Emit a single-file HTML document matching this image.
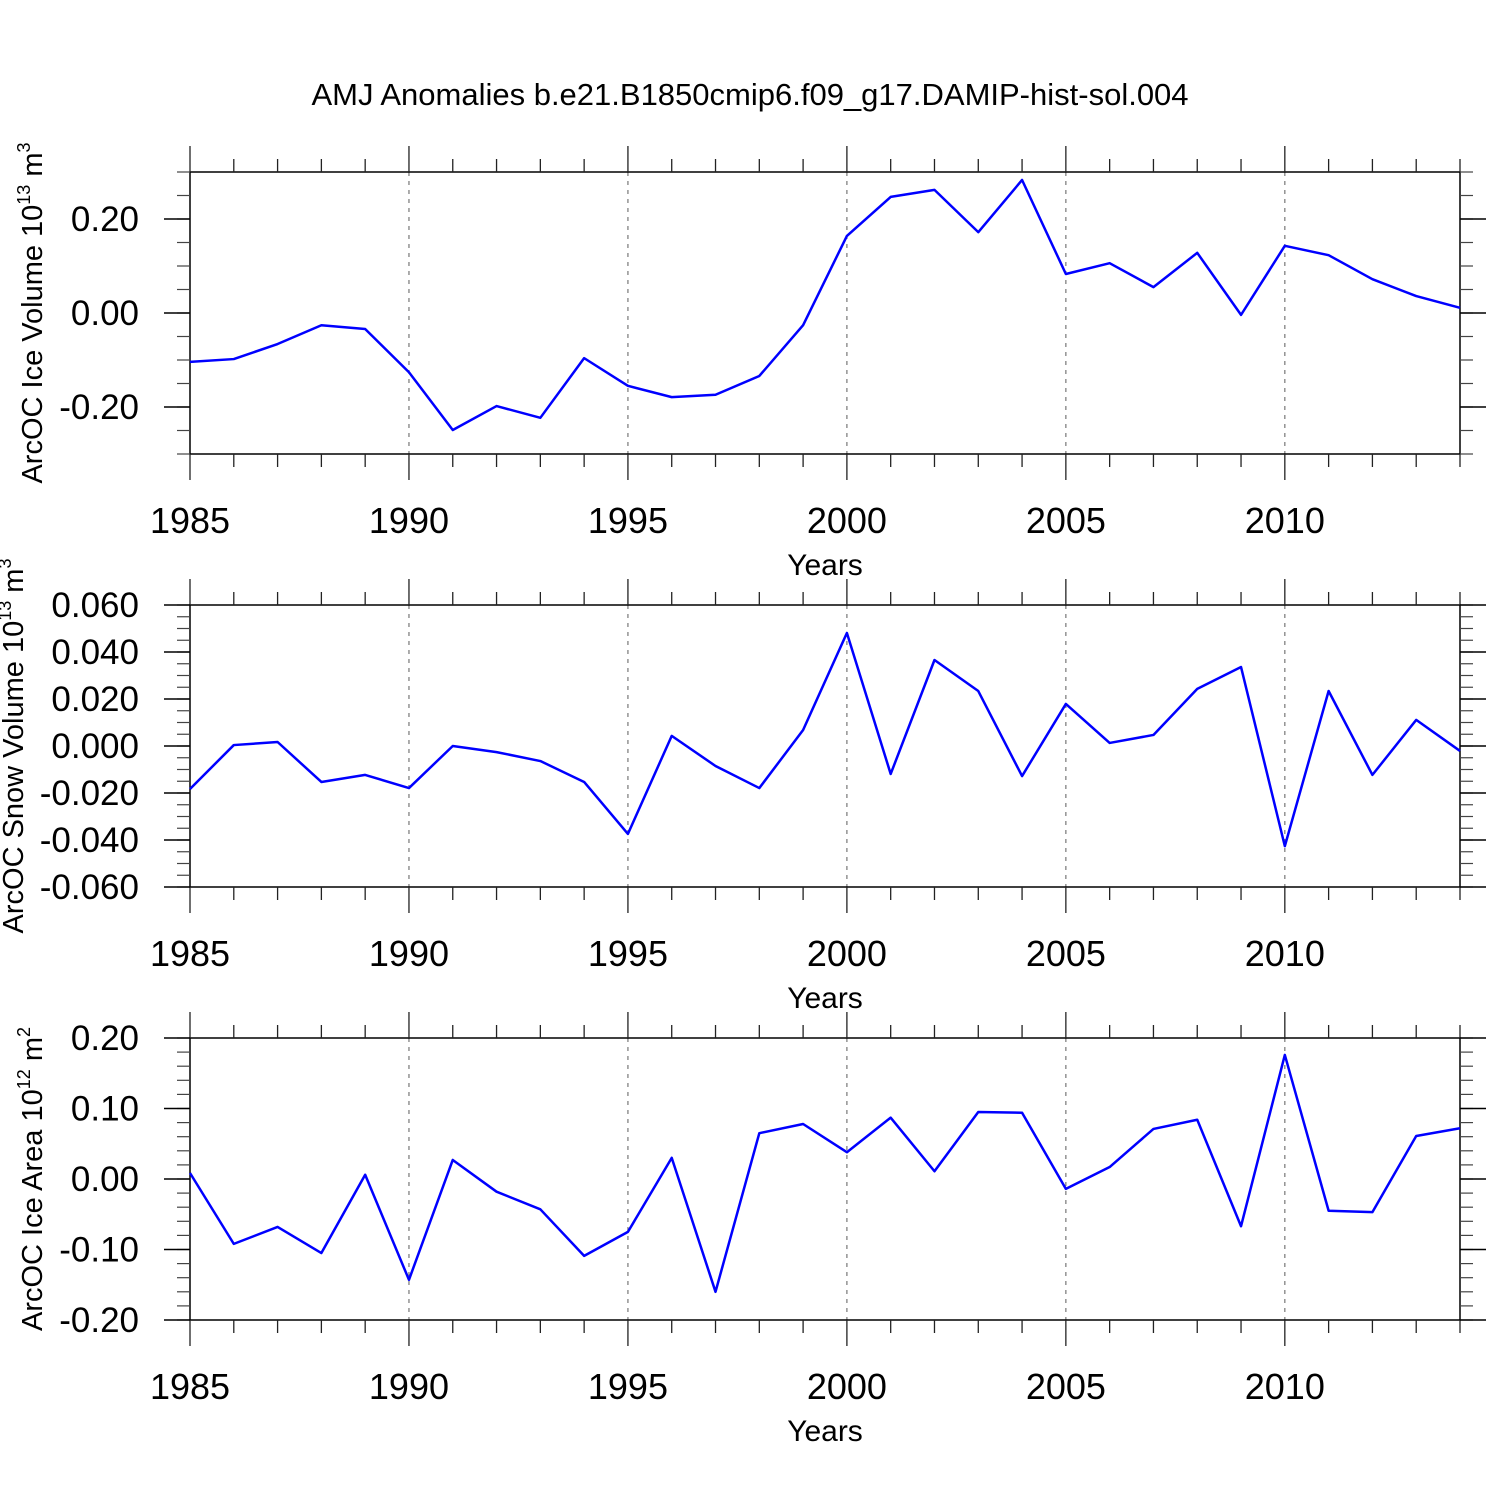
<!DOCTYPE html>
<html><head><meta charset="utf-8"><style>
html,body{margin:0;padding:0;background:#fff;}
svg{display:block;font-family:"Liberation Sans",Arial,sans-serif;}
</style></head><body>
<svg id="chart" width="1500" height="1500" viewBox="0 0 1500 1500" xmlns="http://www.w3.org/2000/svg">
<rect width="1500" height="1500" fill="#fff"/>
<text x="750" y="105" font-size="31" text-anchor="middle">AMJ Anomalies b.e21.B1850cmip6.f09_g17.DAMIP-hist-sol.004</text>
</svg>
<script>
const years = [1985,1986,1987,1988,1989,1990,1991,1992,1993,1994,1995,1996,1997,1998,1999,2000,2001,2002,2003,2004,2005,2006,2007,2008,2009,2010,2011,2012,2013,2014];
const iceVolume = [-0.104,-0.098,-0.066,-0.026,-0.034,-0.126,-0.249,-0.198,-0.223,-0.096,-0.155,-0.179,-0.174,-0.134,-0.026,0.164,0.247,0.262,0.172,0.283,0.083,0.106,0.055,0.128,-0.004,0.143,0.123,0.072,0.036,0.011];
const snowVolume = [-0.0183,0.0004,0.0017,-0.0153,-0.0123,-0.0179,0.0,-0.0026,-0.0064,-0.0153,-0.0374,0.0043,-0.0085,-0.0179,0.0068,0.0481,-0.0119,0.0366,0.0234,-0.0128,0.0179,0.0013,0.0047,0.0243,0.0336,-0.0426,0.0234,-0.0123,0.0111,-0.0021];
const iceArea = [0.0085,-0.092,-0.068,-0.105,0.006,-0.143,0.027,-0.018,-0.043,-0.109,-0.075,0.030,-0.160,0.065,0.078,0.038,0.087,0.011,0.095,0.094,-0.014,0.017,0.071,0.084,-0.067,0.176,-0.045,-0.047,0.061,0.072];
const xTickLabels = [1985,1990,1995,2000,2005,2010];
const ticks1 = [-0.2,0,0.2]; const labels1 = ["-0.20","0.00","0.20"];
const ticks2 = [-0.06,-0.04,-0.02,0,0.02,0.04,0.06]; const labels2 = ["-0.060","-0.040","-0.020","0.000","0.020","0.040","0.060"];
const ticks3 = [-0.2,-0.1,0,0.1,0.2]; const labels3 = ["-0.20","-0.10","0.00","0.10","0.20"];

const svg = document.getElementById('chart');
const NS = 'http://www.w3.org/2000/svg';
const X0 = 190, X1 = 1460;
function xs(yr){ return X0 + (yr-1985)*(X1-X0)/29; }
function mk(tag, attrs, parent){ const e=document.createElementNS(NS,tag); for(const k in attrs) e.setAttribute(k,attrs[k]); (parent||svg).appendChild(e); return e; }
function line(x1,y1,x2,y2,stroke,w,g){ return mk('line',{x1,y1,x2,y2,stroke,'stroke-width':w},g); }

function panel(name, top, ymin, ymax, minorStep, ticks, labels, data, titleMain, titleExp, titleUnit, titleX){
  const bot = top+282;
  const ys = v => bot - (v-ymin)/(ymax-ymin)*(bot-top);
  const g = mk('g',{});
  
  
  for(let yr=1990; yr<=2010; yr+=5){
    const l = line(xs(yr),top,xs(yr),bot,'#777',1.2,g);
    l.setAttribute('stroke-dasharray','4,5');
    
    
  }
  const fr = mk('rect',{x:X0,y:top,width:X1-X0,height:bot-top,fill:'none',stroke:'#000','stroke-width':1.5},g);
  
  
  for(const yr of years){
    const major = (yr%5===0);
    const len = major?26:13;
    line(xs(yr),top,xs(yr),top-len,'#222',1.3,g);
    line(xs(yr),bot,xs(yr),bot+len,'#222',1.3,g);
  }
  xTickLabels.forEach(yr=>{
    const t = mk('text',{x:xs(yr),y:bot+79,'font-size':36,'text-anchor':'middle'},g);
    t.textContent = yr;
    
    
  });
  const xt = mk('text',{x:825,y:bot+121,'font-size':30,'text-anchor':'middle'},g);
  xt.textContent='Years';
  
  
  const n = Math.round((ymax-ymin)/minorStep);
  for(let i=0;i<=n;i++){
    const y = ys(ymin+i*minorStep);
    line(X0,y,X0-13,y,'#444',1.2,g);
    line(X1,y,X1+13,y,'#444',1.2,g);
  }
  ticks.forEach((v,i)=>{
    const y = ys(v);
    line(X0,y,X0-26,y,'#000',1.5,g);
    line(X1,y,X1+26,y,'#000',1.5,g);
    const t = mk('text',{x:139,y:y+12,'font-size':35,'text-anchor':'end'},g);
    t.textContent = labels[i];
    
    
  });
  const cy = top+141;
  const yt = mk('text',{x:0,y:0,'font-size':29,'text-anchor':'middle',transform:`translate(${titleX},${cy}) rotate(-90)`},g);
  
  
  const s1 = mk('tspan',{},yt); s1.textContent = titleMain+' 10';
  const s2 = mk('tspan',{'font-size':18,dy:-12},yt); s2.textContent = titleExp;
  const s3 = mk('tspan',{dy:12},yt); s3.textContent = ' m';
  const s4 = mk('tspan',{'font-size':18,dy:-12},yt); s4.textContent = titleUnit;
  const pts = data.map((v,i)=>xs(years[i])+','+ys(v)).join(' ');
  const pl = mk('polyline',{points:pts,fill:'none',stroke:'#0000ff','stroke-width':2.5,'stroke-linejoin':'round'},g);
  
  
}
panel('ice-volume',172,-0.3,0.3,0.05,ticks1,labels1,iceVolume,'ArcOC Ice Volume','13','3',42);
panel('snow-volume',605,-0.06,0.06,0.005,ticks2,labels2,snowVolume,'ArcOC Snow Volume','13','3',23);
panel('ice-area',1038,-0.2,0.2,0.02,ticks3,labels3,iceArea,'ArcOC Ice Area','12','2',42);
</script>
</body></html>
